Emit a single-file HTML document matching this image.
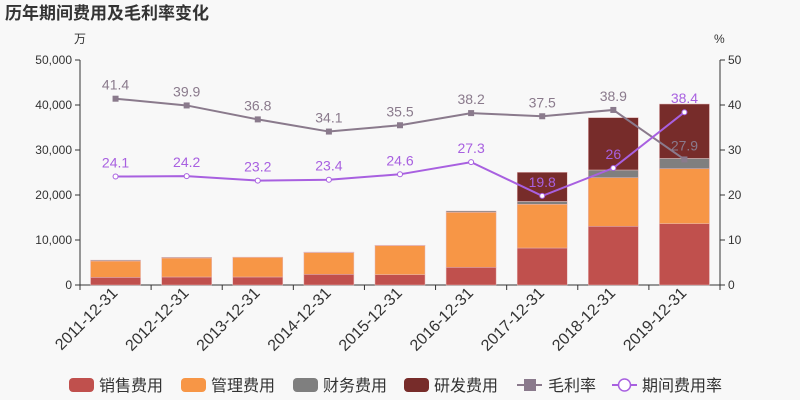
<!DOCTYPE html>
<html><head><meta charset="utf-8"><style>
body{margin:0;background:#f8f8f8;}
svg{display:block;font-family:"Liberation Sans","Noto Sans CJK SC",sans-serif;}
</style></head><body>
<svg id="c" width="800" height="400">
<rect width="800" height="400" fill="#f8f8f8"/>
<text x="5" y="19" font-size="17" font-weight="bold" fill="#333">历年期间费用及毛利率变化</text>
<text x="74" y="43" font-size="12" fill="#333">万</text>
<text x="714" y="43" font-size="12" fill="#333">%</text>
</svg>
<script>
const categories=["2011-12-31","2012-12-31","2013-12-31","2014-12-31","2015-12-31","2016-12-31","2017-12-31","2018-12-31","2019-12-31"];
const sales=[1700,1780,1780,2370,2300,3930,8220,13040,13630];
const mgmt=[3630,4220,4370,4820,6440,12220,9710,10810,12220];
const finance=[200,150,40,120,100,290,660,1710,2300];
const rnd=[0,0,0,0,0,0,6450,11630,12070];
const grossMargin=[41.4,39.9,36.8,34.1,35.5,38.2,37.5,38.9,27.9];
const expenseRate=[24.1,24.2,23.2,23.4,24.6,27.3,19.8,26,38.4];
const leftTicks=[0,10000,20000,30000,40000,50000];
const rightTicks=[0,10,20,30,40,50];
const NS="http://www.w3.org/2000/svg";
const svg=document.getElementById('c');
const X0=80,X1=720,Y0=285,Y1=60;
const band=(X1-X0)/categories.length;
const xc=i=>X0+band*(i+0.5);
const yL=v=>Y0-(v/50000)*(Y0-Y1);
const yR=v=>Y0-(v/50)*(Y0-Y1);
function mk(t,a,p){const e=document.createElementNS(NS,t);for(const k in a)e.setAttribute(k,a[k]);(p||svg).appendChild(e);return e;}
// axes
let ax=mk('line',{x1:X0,y1:Y1,x2:X0,y2:Y0,stroke:'#333'});


ax=mk('line',{x1:X1,y1:Y1,x2:X1,y2:Y0,stroke:'#333'});


ax=mk('line',{x1:X0,y1:Y0,x2:X1,y2:Y0,stroke:'#333'});


leftTicks.forEach(v=>{const y=yL(v);mk('line',{x1:X0-5,y1:y,x2:X0,y2:y,stroke:'#333'});
const t=mk('text',{x:X0-8,y:y+4,'text-anchor':'end','font-size':12,fill:'#333'});t.textContent=v.toLocaleString('en-US');

});
rightTicks.forEach(v=>{const y=yR(v);mk('line',{x1:X1,y1:y,x2:X1+5,y2:y,stroke:'#333'});
const t=mk('text',{x:X1+8,y:y+4,'font-size':12,fill:'#333'});t.textContent=v;

});
for(let i=0;i<=categories.length;i++){const x=X0+band*i;mk('line',{x1:x,y1:Y0,x2:x,y2:Y0+5,stroke:'#333'});}
categories.forEach((c,i)=>{const x=xc(i)+3,y=294;
const t=mk('text',{x:x,y:y,'text-anchor':'end','font-size':16,fill:'#333',transform:`rotate(-45 ${x} ${y})`});t.textContent=c;

});
// bars
const series=[[sales,'#c0504d','sales'],[mgmt,'#f79646','mgmt'],[finance,'#7f7f7f','finance'],[rnd,'#772c2a','rnd']];
categories.forEach((c,i)=>{let base=0;series.forEach(([arr,col,nm])=>{const v=arr[i];if(v<=0)return;
const r=mk('rect',{x:xc(i)-25,y:yL(base+v),width:50,height:yL(base)-yL(base+v),fill:col,stroke:'#e6b8b8','stroke-width':0.5});


base+=v;});});
// lines
function line(arr,col,nm,square){
const pl=mk('polyline',{points:arr.map((v,i)=>xc(i)+','+yR(v)).join(' '),fill:'none',stroke:col,'stroke-width':2});


arr.forEach((v,i)=>{const x=xc(i),y=yR(v);let m;
if(square)m=mk('rect',{x:x-3,y:y-3,width:6,height:6,fill:col});else m=mk('circle',{cx:x,cy:y,r:2.5,fill:'#fff',stroke:col,'stroke-width':1});


const t=mk('text',{x:x,y:y-9,'text-anchor':'middle','font-size':14,fill:col});t.textContent=v;

});}
line(grossMargin,'#8a7a8c','gross-margin',true);
line(expenseRate,'#a860e0','expense-rate',false);
// legend
const leg=[['销售费用','#c0504d',69],['管理费用','#f79646',181],['财务费用','#7f7f7f',293],['研发费用','#772c2a',404]];
leg.forEach(([n,col,x])=>{const g=mk('g',{});


mk('rect',{x:x,y:378,width:25,height:14,rx:4,fill:col},g);
const t=mk('text',{x:x+30,y:391,'font-size':16,fill:'#333'},g);t.textContent=n;});
let g=mk('g',{});


mk('line',{x1:517,y1:385,x2:542,y2:385,stroke:'#8a7a8c','stroke-width':2},g);
mk('rect',{x:524,y:379,width:12,height:12,fill:'#8a7a8c'},g);
let t=mk('text',{x:548,y:391,'font-size':16,fill:'#333'},g);t.textContent='毛利率';
g=mk('g',{});


mk('line',{x1:612,y1:385,x2:637,y2:385,stroke:'#a860e0','stroke-width':2},g);
mk('circle',{cx:624.5,cy:385,r:6,fill:'#fff',stroke:'#a860e0','stroke-width':1.5},g);
t=mk('text',{x:642,y:391,'font-size':16,fill:'#333'},g);t.textContent='期间费用率';
</script>
</body></html>
